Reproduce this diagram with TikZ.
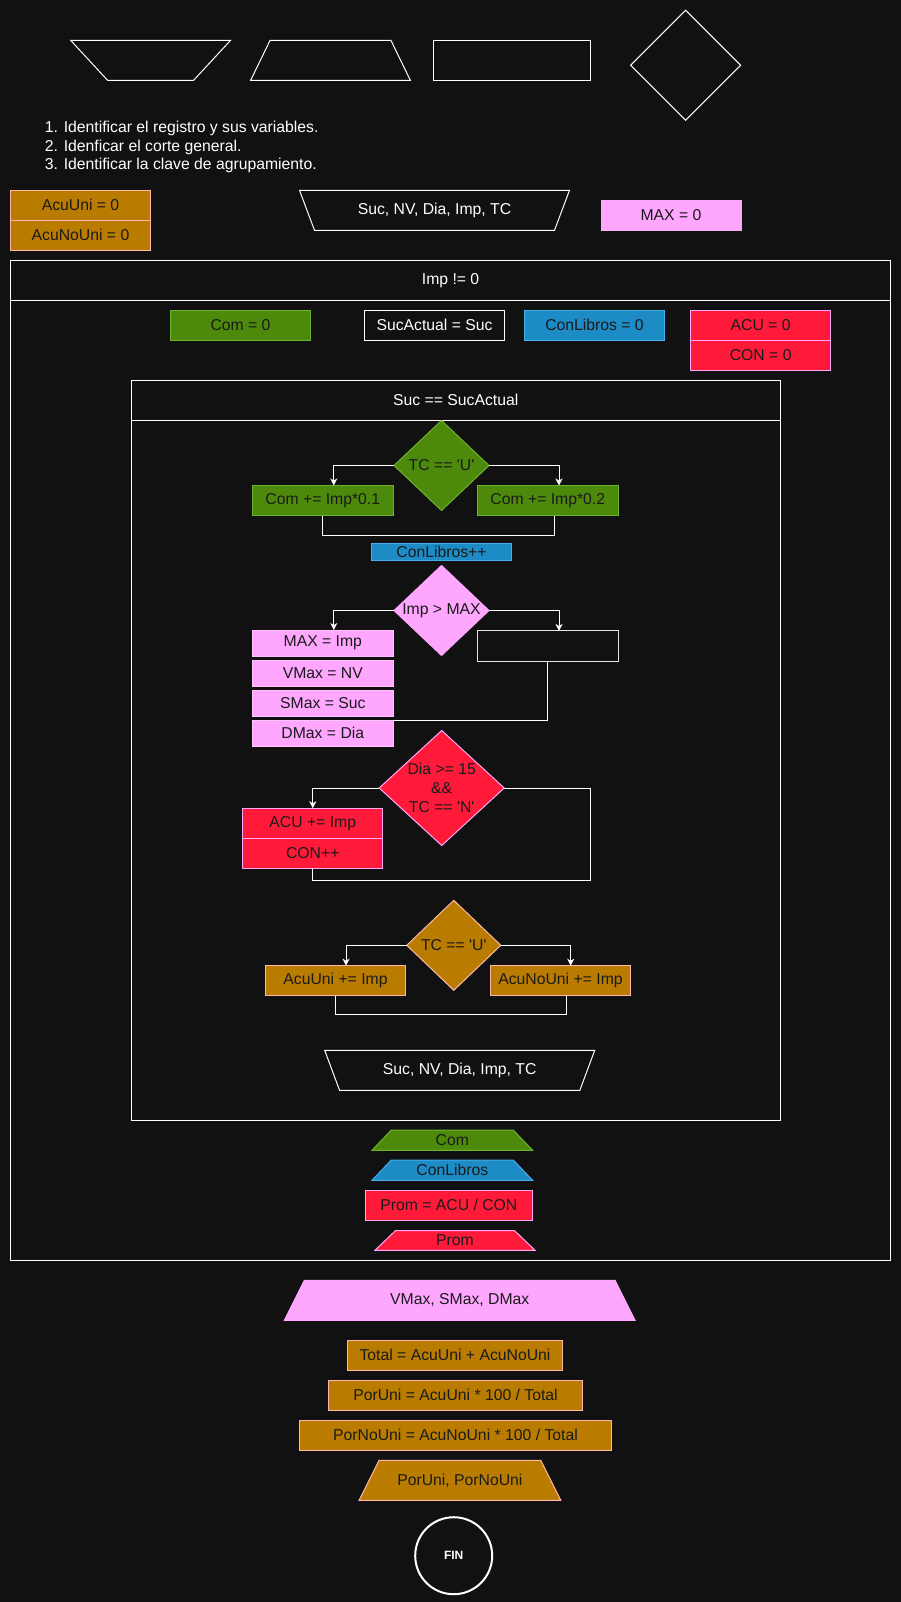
\documentclass[tikz,border=0pt]{standalone}
\usepackage{fontspec}
\setmainfont{Liberation Sans}
\usepackage{xcolor}
\usetikzlibrary{shapes.geometric, arrows.meta, positioning}
\definecolor{bgdark}{HTML}{111111}
\definecolor{comgreen}{HTML}{4D8A0C}
\definecolor{comgreenline}{HTML}{6CB22C}
\definecolor{libblue}{HTML}{1D8BC6}
\definecolor{libblueline}{HTML}{46AEEA}
\definecolor{acured}{HTML}{FF1A3A}
\definecolor{maxpink}{HTML}{FFA6FF}
\definecolor{unigold}{HTML}{B97C00}
\definecolor{unigoldline}{HTML}{FFB8A8}
\definecolor{inkdark}{HTML}{1A1A1A}

% #1 name, #2 center, #3 top width, #4 bottom width, #5 height, #6 style, #7 text
\newcommand{\iotrap}[7]{%
  \path[#6, shift={(#2)}] (-#3/2,-#5/2) -- (#3/2,-#5/2) -- (#4/2,#5/2) -- (-#4/2,#5/2) -- cycle;
  \node[#6, draw=none, fill=none] (#1) at (#2) {#7};}

\begin{document}
\begin{tikzpicture}[x=1pt, y=-1pt, line width=1pt,
  every node/.style={font=\fontsize{15.75}{18.7}\selectfont, inner sep=0pt, outer sep=0pt},
  proc/.style={draw, rectangle, minimum height=30pt, text=inkdark},
  cond/.style={draw, diamond, inner sep=-4pt, align=center, text=inkdark},
  darkbox/.style={draw=white, fill=bgdark, text=white},
  arrowline/.style={draw=white, -{Stealth[length=7pt, width=7pt, inset=2pt]}},
  mergeline/.style={draw=white},
]
  \fill[bgdark] (0,0) rectangle (901,1602);
  \useasboundingbox (0,0) rectangle (901,1602);

  % simbolos de referencia
  \iotrap{manual}{150.6,60.3}{160}{86}{40}{darkbox}{}
  \iotrap{entrada}{330.5,60.3}{120.8}{159.7}{40}{darkbox}{}
  \node[darkbox, rectangle, minimum width=157pt, minimum height=40pt] (proceso) at (512.3, 60.3) {};
  \node[darkbox, diamond, minimum width=110pt, minimum height=110pt] (decision) at (685.6, 65.3) {};

  \node[text=white, align=left, anchor=west] (pasos) at (44.8, 147)
    {1. Identificar el registro y sus variables.\\2. Idenficar el corte general.\\3. Identificar la clave de agrupamiento.};

  % inicio
  \node[proc, fill=unigold, draw=unigoldline, minimum width=140pt] (acuuni) at (80.5, 205.3) {AcuUni = 0};
  \node[proc, fill=unigold, draw=unigoldline, minimum width=140pt, below=0pt of acuuni] (acunouni) {AcuNoUni = 0};
  \iotrap{lectura}{434.5,210.3}{270}{240}{40}{darkbox}{Suc, NV, Dia, Imp, TC}
  \node[proc, fill=maxpink, draw=maxpink, minimum width=140pt] (maxini) at (671, 215.3) {MAX = 0};

  % ciclo general
  \node[darkbox, minimum width=880.5pt, minimum height=999.7pt] (mientras) at (450.55, 760.15) {};
  \node[darkbox, minimum width=880.5pt, minimum height=40pt, anchor=north] (mientrascab) at (mientras.north) {Imp != 0};

  \node[proc, fill=comgreen, draw=comgreenline, minimum width=140pt] (comini) at (240.5, 325.3) {Com = 0};
  \node[darkbox, minimum width=140pt, minimum height=30pt] (sucact) at (434.5, 325.3) {SucActual = Suc};
  \node[proc, fill=libblue, draw=libblueline, minimum width=140pt] (libini) at (594.5, 325.3) {ConLibros = 0};
  \node[proc, fill=acured, draw=maxpink, minimum width=140pt] (acuini) at (760.7, 325.3) {ACU = 0};
  \node[proc, fill=acured, draw=maxpink, minimum width=140pt, below=0pt of acuini] (conini) {CON = 0};

  % corte por sucursal
  \node[darkbox, minimum width=649.5pt, minimum height=739.7pt] (corte) at (455.75, 750.15) {};
  \node[darkbox, minimum width=649.5pt, minimum height=40pt, anchor=north] (cortecab) at (corte.north) {Suc == SucActual};

  \node[cond, fill=comgreen, draw=comgreenline, minimum width=95pt, minimum height=90pt] (tcuno) at (441.5, 465.5) {TC == \textquotesingle U\textquotesingle};
  \node[proc, fill=comgreen, draw=comgreenline, minimum width=141pt] (comuni) at (322.8, 500.5) {Com += Imp*0.1};
  \node[proc, fill=comgreen, draw=comgreenline, minimum width=141pt] (comnouni) at (547.8, 500.5) {Com += Imp*0.2};
  \node[proc, fill=libblue, draw=libblueline, minimum width=140pt, minimum height=17pt] (libinc) at (441.5, 552) {ConLibros++};

  \node[cond, fill=maxpink, draw=maxpink, minimum width=95pt, minimum height=90pt] (mayor) at (441.5, 610.5) {Imp > MAX};
  \node[proc, fill=maxpink, draw=maxpink!70!white, minimum width=141pt, minimum height=26pt] (maximp) at (322.8, 643) {MAX = Imp};
  \node[proc, fill=maxpink, draw=maxpink!70!white, minimum width=141pt, minimum height=26pt, below=4pt of maximp] (vmax) {VMax = NV};
  \node[proc, fill=maxpink, draw=maxpink!70!white, minimum width=141pt, minimum height=26pt, below=4pt of vmax] (smax) {SMax = Suc};
  \node[proc, fill=maxpink, draw=maxpink!70!white, minimum width=141pt, minimum height=26pt, below=4pt of smax] (dmax) {DMax = Dia};
  \node[darkbox, draw=white!80!gray, minimum width=141pt, minimum height=30.7pt] (sinmax) at (547.8, 646.3) {};

  \node[cond, fill=acured, draw=maxpink, minimum width=125pt, minimum height=115pt] (quincena) at (441.7, 788) {Dia >= 15\\\&\&\\TC == \textquotesingle N\textquotesingle};
  \node[proc, fill=acured, draw=maxpink, minimum width=140pt] (acusum) at (312.8, 823.3) {ACU += Imp};
  \node[proc, fill=acured, draw=maxpink, minimum width=140pt, below=0pt of acusum] (coninc) {CON++};
  \coordinate (quinfin) at (590.7, 880.3);

  \node[cond, fill=unigold, draw=unigoldline, minimum width=94pt, minimum height=90pt] (tcdos) at (453.8, 945.3) {TC == \textquotesingle U\textquotesingle};
  \node[proc, fill=unigold, draw=unigoldline, minimum width=140pt] (unisum) at (335.5, 980.7) {AcuUni += Imp};
  \node[proc, fill=unigold, draw=unigoldline, minimum width=140pt] (nounisum) at (560.5, 980.7) {AcuNoUni += Imp};

  \iotrap{relectura}{459.7,1070.3}{270}{240.3}{40}{darkbox}{Suc, NV, Dia, Imp, TC}

  % salidas por sucursal
  \iotrap{comout}{452.3,1140.2}{122}{160.7}{20.3}{fill=comgreen, draw=comgreenline, text=inkdark}{Com}
  \iotrap{libout}{452.3,1170.2}{122}{160.7}{20.3}{fill=libblue, draw=libblueline, text=inkdark}{ConLibros}
  \node[proc, fill=acured, draw=maxpink, minimum width=167pt] (prom) at (448.8, 1205.3) {Prom = ACU / CON};
  \iotrap{promout}{455,1240.5}{119.3}{160}{19.6}{fill=acured, draw=maxpink, text=inkdark}{Prom}

  % salidas finales
  \iotrap{maxout}{459.7,1300.3}{310.7}{350.7}{40}{fill=maxpink, draw=maxpink, text=inkdark}{VMax, SMax, DMax}
  \node[proc, fill=unigold, draw=unigoldline, minimum width=215.4pt] (total) at (455, 1355.3) {Total = AcuUni + AcuNoUni};
  \node[proc, fill=unigold, draw=unigoldline, minimum width=254.4pt] (poruni) at (455.5, 1395.3) {PorUni = AcuUni * 100 / Total};
  \node[proc, fill=unigold, draw=unigoldline, minimum width=311.6pt] (pornouni) at (455.5, 1435.3) {PorNoUni = AcuNoUni * 100 / Total};
  \iotrap{porout}{459.9,1480.3}{161.7}{201.7}{40}{fill=unigold, draw=unigoldline, text=inkdark}{PorUni, PorNoUni}
  \node[circle, draw=white, line width=2pt, fill=bgdark, minimum size=77pt, text=white, font=\bfseries\fontsize{12}{14}\selectfont] (fin) at (453.7, 1555.7) {FIN};

  % conectores
  \draw[arrowline] (tcuno.west) -| ([xshift=11pt]comuni.north);
  \draw[arrowline] (tcuno.east) -| ([xshift=11.2pt]comnouni.north);
  \draw[mergeline] (comuni.south) -- ++(0,20) -| ([xshift=6.5pt]comnouni.south);
  \draw[arrowline] (mayor.west) -| ([xshift=11pt]maximp.north);
  \draw[arrowline] (mayor.east) -| ([xshift=11.2pt]sinmax.north);
  \draw[mergeline] (sinmax.south) |- (dmax.north east);
  \draw[arrowline] (quincena.west) -| (acusum.north);
  \draw[mergeline] (quincena.east) -| (quinfin) -| (coninc.south);
  \draw[arrowline] (tcdos.west) -| ([xshift=10.5pt]unisum.north);
  \draw[arrowline] (tcdos.east) -| ([xshift=10.2pt]nounisum.north);
  \draw[mergeline] (unisum.south) -- ++(0,18.6) -| ([xshift=6.2pt]nounisum.south);
\end{tikzpicture}
\end{document}
